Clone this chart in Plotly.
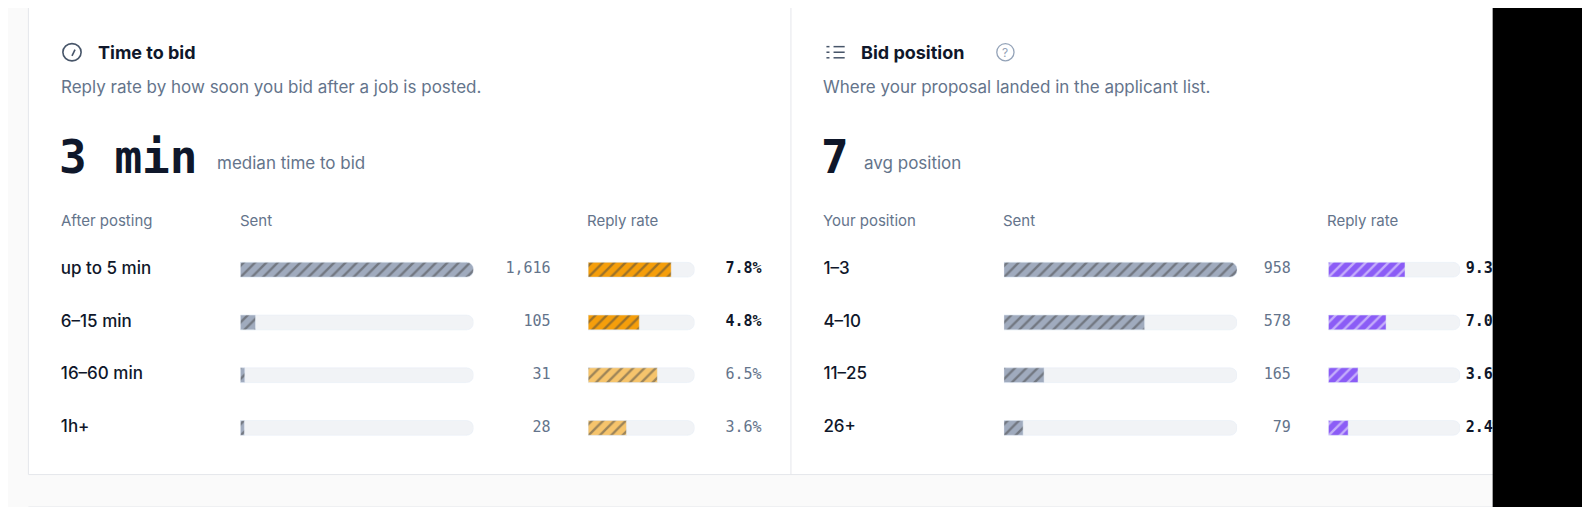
import plotly.graph_objects as go

OFF = 8  # page body margin
S = 1568 / 1590  # reference was measured on a slightly scaled picture
W, H = 1590 - 2 * OFF, 515 - 2 * OFF

# left card: time to bid
time_buckets = ["up to 5 min", "6–15 min", "16–60 min", "1h+"]
time_sent = [1616, 105, 31, 28]
time_reply = [7.8, 4.8, 6.5, 3.6]
time_strong = [True, True, False, False]

# right card: bid position
pos_buckets = ["1–3", "4–10", "11–25", "26+"]
pos_sent = [958, 578, 165, 79]
pos_reply = [9.3, 7.0, 3.6, 2.4]

rows = ["r0", "r1", "r2", "r3"]

DARK = "#0f172a"
GRAY = "#64748b"
TRACK = "#f1f3f6"
SLATE = "#a0abbe"
ORANGE = "#f59e0b"
ORANGE_LT = "#f6c46c"
PURPLE = "#8b5cf6"


def sx(x):
    return x / S - OFF


def px(x):
    return sx(x) / W


def py(y):
    return 1 - (y / S - OFF) / H


fig = go.Figure()

pattern = dict(shape="/", fillmode="overlay", fgcolor="rgba(255,255,255,0.22)", size=8, solidity=0.3)


def bar_pair(axis, values, vmax, colors):
    fig.add_trace(go.Bar(
        x=[vmax] * len(values), y=rows, orientation="h", xaxis=axis, yaxis="y",
        marker=dict(color=TRACK, cornerradius=7), width=0.28, hoverinfo="skip",
    ))
    fig.add_trace(go.Bar(
        x=values, y=rows, orientation="h", xaxis=axis, yaxis="y",
        marker=dict(color=colors, cornerradius=7, pattern=pattern), width=0.28,
    ))


bar_pair("x", time_sent, max(time_sent), [SLATE] * 4)
bar_pair("x2", time_reply, 10, [ORANGE if s else ORANGE_LT for s in time_strong])
bar_pair("x3", pos_sent, max(pos_sent), [SLATE] * 4)
bar_pair("x4", pos_reply, 16, [PURPLE] * 4)


def text_col(xpix, labels, pos, size, color, family="Inter", weight=400, sel=None):
    idx = [i for i in range(len(labels)) if sel is None or sel[i]]
    fig.add_trace(go.Scatter(
        x=[sx(xpix)] * len(idx), y=[rows[i] for i in idx], text=[labels[i] for i in idx],
        mode="text", textposition=pos, xaxis="x5", yaxis="y", cliponaxis=False,
        textfont=dict(size=size, color=color, family=family, weight=weight), hoverinfo="skip",
    ))


MONO = "DejaVu Sans Mono"
text_col(60, time_buckets, "middle right", 17, DARK, weight=500)
text_col(543, [f"{v:,}" for v in time_sent], "middle left", 15, GRAY, MONO)
text_col(751, [f"{v}%" for v in time_reply], "middle left", 15, DARK, MONO, 700, time_strong)
text_col(751, [f"{v}%" for v in time_reply], "middle left", 15, GRAY, MONO, 400, [not s for s in time_strong])
text_col(812, pos_buckets, "middle right", 17, DARK, weight=500)
text_col(1273, [f"{v:,}" for v in pos_sent], "middle left", 15, GRAY, MONO)
text_col(1481, [f"{v}%" for v in pos_reply], "middle left", 15, DARK, MONO, 700)

shapes = [
    # card outlines
    dict(type="rect", x0=px(28), x1=px(1650), y0=py(468), y1=py(5), xref="paper", yref="paper",
         line=dict(color="#e5e7eb", width=1), fillcolor="white", layer="below"),
    dict(type="rect", x0=px(28), x1=px(1650), y0=py(560), y1=py(500), xref="paper", yref="paper",
         line=dict(color="#e5e7eb", width=1), fillcolor="white", layer="below"),
    dict(type="line", x0=px(780), x1=px(780), y0=py(468), y1=py(5), xref="paper", yref="paper",
         line=dict(color="#e5e7eb", width=1), layer="below"),
    # gauge icon
    dict(type="circle", x0=px(62), x1=px(80), y0=py(60), y1=py(43), xref="paper", yref="paper",
         line=dict(color="#475569", width=1.6)),
    dict(type="line", x0=px(71), x1=px(74), y0=py(55), y1=py(49), xref="paper", yref="paper",
         line=dict(color="#475569", width=1.6)),
    # help icon
    dict(type="circle", x0=px(983), x1=px(1000), y0=py(60), y1=py(43), xref="paper", yref="paper",
         line=dict(color="#94a3b8", width=1.3)),
    # black cut-off at right edge
    dict(type="rect", x0=px(1472), x1=1.05, y0=-0.05, y1=1.05, xref="paper", yref="paper",
         fillcolor="black", line=dict(width=0), layer="above"),
]
for yy in [46, 51.5, 57]:
    shapes.append(dict(type="line", x0=px(822), x1=px(833), y0=py(yy), y1=py(yy), xref="paper", yref="paper",
                       line=dict(color="#475569", width=1.5)))
    shapes.append(dict(type="line", x0=px(815), x1=px(818), y0=py(yy), y1=py(yy), xref="paper", yref="paper",
                       line=dict(color="#475569", width=1.5)))


def ann(x, y, text, size, color, family="Inter", anchor="left"):
    return dict(x=px(x), y=py(y), xref="paper", yref="paper", text=text, showarrow=False,
                xanchor=anchor, yanchor="middle", font=dict(size=size, color=color, family=family))


annotations = [
    ann(95, 52, "<b>Time to bid</b>", 18, DARK),
    ann(58, 86, "Reply rate by how soon you bid after a job is posted.", 17, GRAY),
    ann(56, 155, "<b>3 min</b>", 46, DARK, MONO),
    ann(212, 161, "median time to bid", 17, GRAY),
    ann(58, 217, "After posting", 15, GRAY),
    ann(235, 217, "Sent", 15, GRAY),
    ann(577, 217, "Reply rate", 15, GRAY),
    ann(847, 52, "<b>Bid position</b>", 18, DARK),
    ann(991.5, 52, "?", 12, "#94a3b8", anchor="center"),
    ann(810, 86, "Where your proposal landed in the applicant list.", 17, GRAY),
    ann(808, 155, "<b>7</b>", 46, DARK, MONO),
    ann(850, 161, "avg position", 17, GRAY),
    ann(810, 217, "Your position", 15, GRAY),
    ann(987, 217, "Sent", 15, GRAY),
    ann(1307, 217, "Reply rate", 15, GRAY),
]

hidden = dict(visible=False, fixedrange=True)
fig.update_layout(
    width=W, height=H, margin=dict(l=0, r=0, t=0, b=0),
    paper_bgcolor="#fafafa", plot_bgcolor="rgba(0,0,0,0)",
    barmode="overlay", showlegend=False,
    xaxis=dict(domain=[px(237), px(467)], range=[0, max(time_sent)], **hidden),
    xaxis2=dict(domain=[px(580), px(685)], range=[0, 10], **hidden),
    xaxis3=dict(domain=[px(990), px(1220)], range=[0, max(pos_sent)], **hidden),
    xaxis4=dict(domain=[px(1310), px(1440)], range=[0, 16], **hidden),
    xaxis5=dict(domain=[0, 1], range=[0, W], **hidden),
    yaxis=dict(domain=[py(448), py(240)], range=[3.5, -0.5], type="category",
               categoryorder="array", categoryarray=rows, **hidden),
    shapes=shapes, annotations=annotations,
)

fig.write_html("out.html")
